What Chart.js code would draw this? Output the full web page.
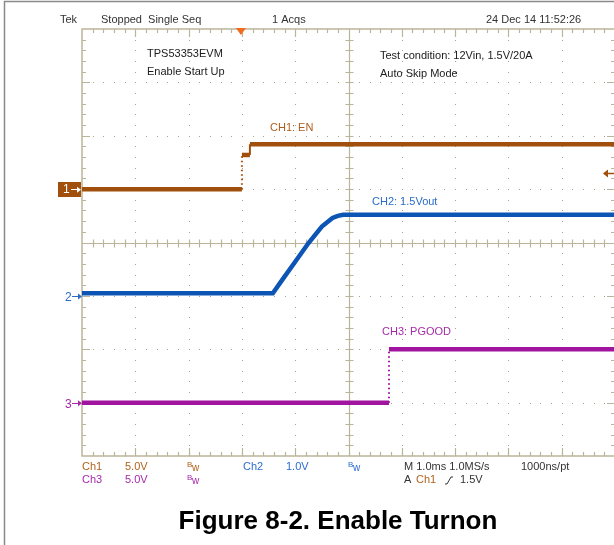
<!DOCTYPE html>
<html><head><meta charset="utf-8">
<script src="https://cdn.jsdelivr.net/npm/chart.js@4.4.1/dist/chart.umd.min.js"></script>
<style>
html,body{margin:0;padding:0;background:#fff;overflow:hidden;width:614px;height:545px}
#wrap{position:relative;width:620px;height:545px}
</style></head>
<body><div id="wrap"><canvas id="c" width="620" height="545"></canvas></div>
<script>
// Time axis in ms (trigger at 0), 1 ms/div, 10 divisions
const timeRange = [-3, 7];
// CH1: EN (volts)
const ch1Time  = [-3, 0, 0, 0.15, 0.15, 7];
const ch1Volts = [0, 0, 3.2, 3.2, 4.2, 4.2];
// CH2: 1.5Vout (volts)
const ch2Time  = [-3, 0.58, 0.75, 1.0, 1.25, 1.5, 1.7, 1.8, 1.9, 2.0, 7];
const ch2Volts = [0.05, 0.05, 0.29, 0.64, 0.99, 1.3, 1.46, 1.5, 1.52, 1.52, 1.52];
// CH3: PGOOD (volts)
const ch3Time  = [-3, 2.76, 2.76, 7];
const ch3Volts = [0, 0, 5.0, 5.0];
// Channel settings
const channelLabels = ['CH1: EN', 'CH2: 1.5Vout', 'CH3: PGOOD'];
const voltsPerDiv = [5, 1, 5];
const groundDiv = [5, 3, 1];
const triggerLevel = 1.5;

const traceColors = ['#a0500c', '#0d55b5', '#a0149f'];
const labelColors = ['#ad5e1e', '#2b6cc4', '#a52aa8'];
const FONT = '11px "Liberation Sans", Arial, sans-serif';

function pts(t, v){ return t.map((x,i)=>({x:x, y:v[i]})); }
function yRange(i){ return {min: -groundDiv[i]*voltsPerDiv[i], max: (8-groundDiv[i])*voltsPerDiv[i]}; }

function ds(i, t, v){
  return {
    label: channelLabels[i], data: pts(t, v), yAxisID: 'y'+(i+1),
    borderColor: traceColors[i], borderWidth: 4.5, pointRadius: 0, tension: 0,
    borderJoinStyle: 'miter', borderCapStyle: 'butt',
    segment: {
      borderDash: c => (c.p0.parsed.x === c.p1.parsed.x && Math.abs(c.p1.parsed.y-c.p0.parsed.y) > voltsPerDiv[i]*0.3) ? [1.5, 3] : undefined,
      borderWidth: c => (c.p0.parsed.x === c.p1.parsed.x) ? 2 : 4.5
    }
  };
}

const scopePlugin = {
  id: 'scope',
  beforeDatasetsDraw(chart){
    const {ctx, chartArea:a} = chart;
    const dx = a.width/10, dy = a.height/8;
    ctx.save();
    // frame around figure
    ctx.strokeStyle = '#8a8a8a'; ctx.lineWidth = 1.5;
    ctx.beginPath(); ctx.moveTo(4.5, 545); ctx.lineTo(4.5, 1.5); ctx.lineTo(620, 1.5); ctx.stroke();
    // dotted grid
    ctx.fillStyle = '#a8a48a';
    for (let i=1;i<10;i++){ if(i===5) continue; const x=Math.round(a.left+i*dx);
      for(let k=1;k<40;k++){ const y=Math.round(a.top+k*dy/5); ctx.fillRect(x,y,1,1);} }
    for (let j=1;j<8;j++){ if(j===4) continue; const y=Math.round(a.top+j*dy);
      for(let k=1;k<50;k++){ const x=Math.round(a.left+k*dx/5); ctx.fillRect(x,y,1,1);} }
    // border
    ctx.strokeStyle = '#bab59a'; ctx.lineWidth = 1.5;
    ctx.strokeRect(a.left, a.top, a.width, a.height);
    ctx.lineWidth = 1.2;
    ctx.beginPath();
    for (let k=1;k<50;k++){ const x=Math.round(a.left+k*dx/5)+0.5; const L = (k%5===0)?8:4;
      ctx.moveTo(x,a.top); ctx.lineTo(x,a.top+L); ctx.moveTo(x,a.bottom); ctx.lineTo(x,a.bottom-L); }
    for (let k=1;k<40;k++){ const y=Math.round(a.top+k*dy/5)+0.5; const L = (k%5===0)?8:4;
      ctx.moveTo(a.left,y); ctx.lineTo(a.left+L,y); ctx.moveTo(a.right,y); ctx.lineTo(a.right-L,y); }
    // center cross
    const cx = Math.round(a.left+5*dx)+0.5, cy = Math.round(a.top+4*dy)+0.5;
    ctx.moveTo(a.left, cy); ctx.lineTo(a.right, cy);
    ctx.moveTo(cx, a.top); ctx.lineTo(cx, a.bottom);
    for (let k=1;k<50;k++){ const x=Math.round(a.left+k*dx/5)+0.5; ctx.moveTo(x,cy-4); ctx.lineTo(x,cy+4); }
    for (let k=1;k<40;k++){ const y=Math.round(a.top+k*dy/5)+0.5; ctx.moveTo(cx-4,y); ctx.lineTo(cx+4,y); }
    ctx.stroke();
    ctx.restore();
  },
  afterDraw(chart){
    const {ctx, chartArea:a, scales} = chart;
    ctx.save();
    ctx.textBaseline = 'middle'; ctx.textAlign = 'left';
    ctx.font = FONT;
    // header
    ctx.fillStyle = '#333';
    ctx.fillText('Tek', 60, 20);
    ctx.fillText('Stopped  Single Seq', 101, 20);
    ctx.fillText('1 Acqs', 272, 20);
    ctx.fillText('24 Dec 14 11:52:26', 486, 20);
    // annotations
    ctx.fillStyle = '#1a1a1a';
    ctx.fillText('TPS53353EVM', 147, 54);
    ctx.fillText('Enable Start Up', 147, 72);
    ctx.fillText('Test condition: 12Vin, 1.5V/20A', 380, 56);
    ctx.fillText('Auto Skip Mode', 380, 74);
    // channel labels
    ctx.fillStyle = labelColors[0]; ctx.fillText(channelLabels[0], 270, 128);
    ctx.fillStyle = labelColors[1]; ctx.fillText(channelLabels[1], 372, 202);
    ctx.fillStyle = labelColors[2]; ctx.fillText(channelLabels[2], 382, 332);
    // trigger position marker
    const tx = scales.x.getPixelForValue(0) - 1;
    ctx.fillStyle = '#f26b1d';
    ctx.beginPath(); ctx.moveTo(tx-5, a.top-1); ctx.lineTo(tx+5, a.top-1); ctx.lineTo(tx, a.top+6); ctx.closePath(); ctx.fill();
    // trigger level arrow (right)
    const ty = Math.round(scales.y1.getPixelForValue(triggerLevel))+0.5;
    ctx.strokeStyle = traceColors[0]; ctx.fillStyle = traceColors[0]; ctx.lineWidth = 1.5;
    ctx.beginPath(); ctx.moveTo(604, ty); ctx.lineTo(620, ty); ctx.stroke();
    ctx.beginPath(); ctx.moveTo(603, ty); ctx.lineTo(608, ty-4); ctx.lineTo(608, ty+4); ctx.closePath(); ctx.fill();
    // ground markers
    const gy = [0,1,2].map(i => scales['y'+(i+1)].getPixelForValue(0));
    ctx.fillStyle = traceColors[0];
    ctx.fillRect(58, Math.round(gy[0])-7, 23, 15);
    function arrow(x0, y, col){
      ctx.strokeStyle = col; ctx.fillStyle = col; ctx.lineWidth = 1;
      ctx.beginPath(); ctx.moveTo(x0, Math.round(y)+0.5); ctx.lineTo(x0+7, Math.round(y)+0.5); ctx.stroke();
      ctx.beginPath(); ctx.moveTo(x0+10, y+0.5); ctx.lineTo(x0+6, y-2.5); ctx.lineTo(x0+6, y+3.5); ctx.closePath(); ctx.fill();
    }
    ctx.font = '12px "Liberation Sans", Arial, sans-serif';
    ctx.fillStyle = '#fff'; ctx.fillText('1', 63, gy[0]+1);
    arrow(71, gy[0], '#fff');
    ctx.fillStyle = '#2b6cc4'; ctx.fillText('2', 65, gy[1]+2);
    arrow(72, gy[1], '#2b6cc4');
    ctx.fillStyle = '#a52aa8'; ctx.fillText('3', 65, gy[2]+2);
    arrow(72, gy[2], '#a52aa8');
    // bottom readouts
    ctx.font = FONT;
    function bw(x, y, col){
      ctx.fillStyle = col;
      ctx.font = '8px "Liberation Sans", Arial, sans-serif'; ctx.fillText('B', x, y-2);
      ctx.font = '10px "Liberation Sans", Arial, sans-serif'; ctx.fillText('w', x+5, y+1);
      ctx.font = FONT;
    }
    const r1 = 467, r2 = 480;
    ctx.fillStyle = '#b0621c'; ctx.fillText('Ch1', 82, r1); ctx.fillText('5.0V', 125, r1); bw(187, r1, '#b0621c');
    ctx.fillStyle = '#2b6cd0'; ctx.fillText('Ch2', 243, r1); ctx.fillText('1.0V', 286, r1); bw(348, r1, '#2b6cd0');
    ctx.fillStyle = '#333'; ctx.fillText('M 1.0ms 1.0MS/s', 404, r1); ctx.fillText('1000ns/pt', 521, r1);
    ctx.fillStyle = '#a52aa8'; ctx.fillText('Ch3', 82, r2); ctx.fillText('5.0V', 125, r2); bw(187, r2, '#a52aa8');
    ctx.fillStyle = '#333'; ctx.fillText('A', 404, r2);
    ctx.fillStyle = '#b0621c'; ctx.fillText('Ch1', 416, r2);
    ctx.strokeStyle = '#333'; ctx.lineWidth = 1;
    ctx.beginPath(); ctx.moveTo(445, r2+4); ctx.lineTo(447, r2+4); ctx.lineTo(451, r2-3); ctx.lineTo(453, r2-3); ctx.stroke();
    ctx.fillStyle = '#333'; ctx.fillText('1.5V', 460, r2);
    // caption
    ctx.fillStyle = '#000'; ctx.textAlign = 'center';
    ctx.font = 'bold 26px "Liberation Sans", Arial, sans-serif';
    ctx.fillText('Figure 8-2. Enable Turnon', 338, 522);
    ctx.restore();
  }
};

new Chart(document.getElementById('c'), {
  type: 'line',
  data: { datasets: [ ds(0, ch1Time, ch1Volts), ds(1, ch2Time, ch2Volts), ds(2, ch3Time, ch3Volts) ] },
  options: {
    responsive: false, animation: false, events: [],
    layout: { padding: { left: 82, top: 29, right: 5, bottom: 89 } },
    scales: {
      x: { type: 'linear', min: timeRange[0], max: timeRange[1], display: false },
      y1: Object.assign({ display: false }, yRange(0)),
      y2: Object.assign({ display: false }, yRange(1)),
      y3: Object.assign({ display: false }, yRange(2))
    },
    plugins: { legend: { display: false }, tooltip: { enabled: false } }
  },
  plugins: [scopePlugin]
});
</script>
</body></html>
